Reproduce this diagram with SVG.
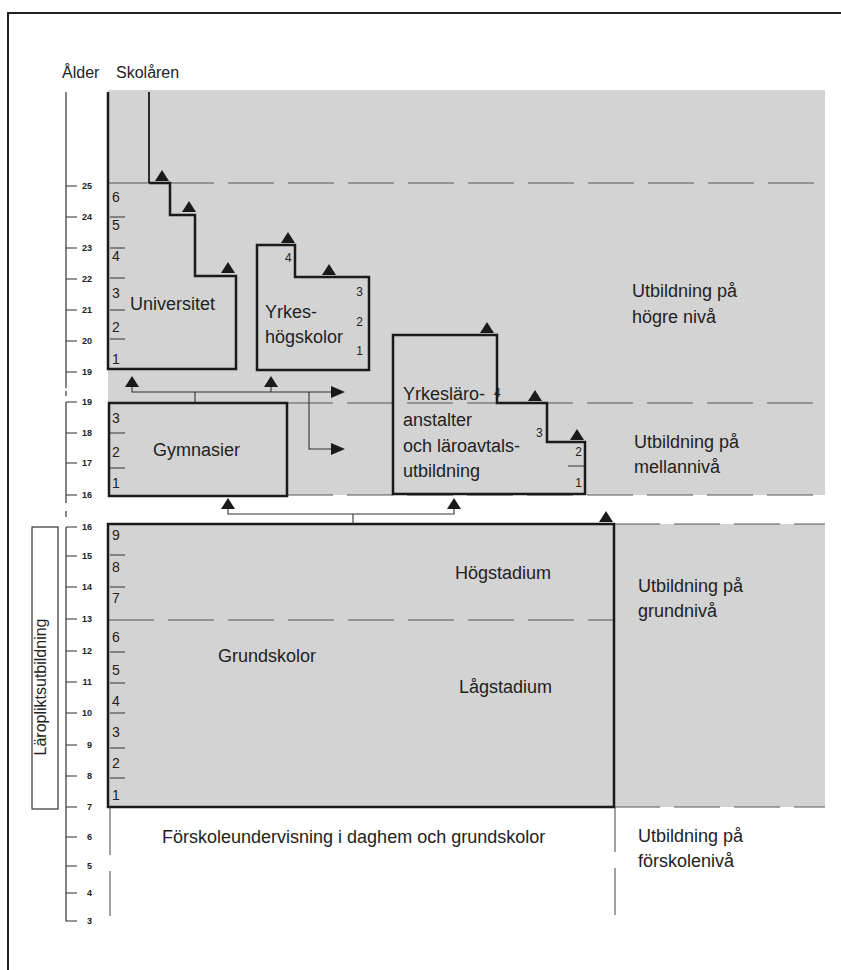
<svg xmlns="http://www.w3.org/2000/svg" width="841" height="970" viewBox="0 0 841 970">
<defs>
<path id="tri" d="M-7,0 L7,0 L0,-11 Z" fill="#1a1a1a"/>
<path id="trir" d="M0,-6 L0,6 L14,0 Z" fill="#1a1a1a"/>
</defs>
<style>
.box{fill:none;stroke:#1a1a1a;stroke-width:2.5;stroke-linejoin:miter}
.thin{fill:none;stroke:#333;stroke-width:1.1}
.dash{fill:none;stroke:#555;stroke-width:1.2;stroke-dasharray:46 14}
.sep{stroke:#333;stroke-width:1}
.lbl{font-family:"Liberation Sans",Arial,sans-serif;font-size:18px;fill:#222}
.hdr{font-family:"Liberation Sans",Arial,sans-serif;font-size:16px;fill:#222}
.num{font-family:"Liberation Sans",Arial,sans-serif;font-size:14px;fill:#222}
.sm{font-family:"Liberation Sans",Arial,sans-serif;font-size:12px;fill:#222}
.age{font-family:"Liberation Sans",Arial,sans-serif;font-size:9px;font-weight:bold;fill:#222;text-anchor:end}
</style>

<g id="frame">
<path d="M8,970 V13 H841" fill="none" stroke="#222" stroke-width="2"/>
</g>

<g id="background">
<rect x="108" y="90" width="717" height="405" fill="#d3d3d3"/>
<rect x="108" y="524" width="717" height="283" fill="#d3d3d3"/>
<line class="dash" x1="108" y1="183" x2="825" y2="183"/>
<line class="dash" x1="287" y1="403" x2="825" y2="403"/>
<line class="dash" x1="287" y1="495" x2="825" y2="495"/>
<line class="dash" x1="614" y1="524" x2="825" y2="524"/>
<line class="dash" x1="614" y1="807" x2="825" y2="807"/>
<line class="dash" x1="108" y1="620" x2="614" y2="620"/>
</g>

<g id="header">
<text class="hdr" x="62" y="78">Ålder</text>
<text class="hdr" x="116" y="78">Skolåren</text>
</g>

<g id="age-axis" stroke="#333" stroke-width="1.2" fill="none">
<line x1="66" y1="92" x2="66" y2="388"/>
<line x1="66" y1="391" x2="66" y2="396"/>
<line x1="66" y1="402" x2="66" y2="503"/>
<line x1="66" y1="511" x2="66" y2="517"/>
<path d="M66,527 V921 H77"/>
<path d="M66,186 H77 M66,217 H77 M66,248 H77 M66,279 H77 M66,310 H77 M66,341 H77 M66,372 H77 M66,402 H77 M66,433 H77 M66,463 H77 M66,495 H77 M66,527 H77 M66,556 H77 M66,587 H77 M66,619 H77 M66,651 H77 M66,682 H77 M66,713 H77 M66,745 H77 M66,776 H77 M66,807 H77 M66,837 H77 M66,866 H77 M66,893 H77"/>
</g>
<g id="age-labels">
<text class="age" x="92" y="189">25</text>
<text class="age" x="92" y="220">24</text>
<text class="age" x="92" y="251">23</text>
<text class="age" x="92" y="282">22</text>
<text class="age" x="92" y="313">21</text>
<text class="age" x="92" y="344">20</text>
<text class="age" x="92" y="375">19</text>
<text class="age" x="92" y="405">19</text>
<text class="age" x="92" y="436">18</text>
<text class="age" x="92" y="466">17</text>
<text class="age" x="92" y="498">16</text>
<text class="age" x="92" y="530">16</text>
<text class="age" x="92" y="559">15</text>
<text class="age" x="92" y="590">14</text>
<text class="age" x="92" y="622">13</text>
<text class="age" x="92" y="654">12</text>
<text class="age" x="92" y="685">11</text>
<text class="age" x="92" y="716">10</text>
<text class="age" x="92" y="748">9</text>
<text class="age" x="92" y="779">8</text>
<text class="age" x="92" y="810">7</text>
<text class="age" x="92" y="840">6</text>
<text class="age" x="92" y="869">5</text>
<text class="age" x="92" y="896">4</text>
<text class="age" x="92" y="924">3</text>
</g>

<g id="laroplikt">
<rect x="32" y="527" width="26" height="282" fill="#fff" stroke="#333" stroke-width="1.2"/>
<text class="hdr" transform="translate(46,687) rotate(-90)" text-anchor="middle">Läropliktsutbildning</text>
</g>

<g id="universitet">
<path class="box" d="M108,92 V369 H236 V276 H195 V215 H170 V183 H149"/>
<line x1="149" y1="92" x2="149" y2="183" stroke="#1a1a1a" stroke-width="1.8"/>
<path class="sep" d="M110,217 H125 M110,248 H125 M110,278 H125 M110,310 H125 M110,339 H125"/>
<text class="num" x="112" y="202">6</text>
<text class="num" x="112" y="230">5</text>
<text class="num" x="112" y="261">4</text>
<text class="num" x="112" y="298">3</text>
<text class="num" x="112" y="332">2</text>
<text class="num" x="112" y="364">1</text>
<text class="lbl" x="130" y="310">Universitet</text>
<use href="#tri" x="162" y="181"/>
<use href="#tri" x="189" y="212"/>
<use href="#tri" x="228" y="273"/>
</g>

<g id="yrkeshogskolor">
<path class="box" d="M257,370 V245 H295 V277 H369 V370 Z"/>
<text class="sm" x="285" y="262">4</text>
<text class="sm" x="363" y="296" text-anchor="end">3</text>
<text class="sm" x="363" y="326" text-anchor="end">2</text>
<text class="sm" x="363" y="355" text-anchor="end">1</text>
<text class="lbl" x="265" y="318">Yrkes-</text>
<text class="lbl" x="265" y="343">högskolor</text>
<use href="#tri" x="288" y="243"/>
<use href="#tri" x="329" y="275"/>
</g>

<g id="yrkeslaroanstalter">
<path class="box" d="M393,494 V335 H497 V403 H547 V442 H585 V494 Z"/>
<text class="lbl" x="403" y="400">Yrkesläro-</text>
<text class="lbl" x="403" y="426">anstalter</text>
<text class="lbl" x="403" y="452">och läroavtals-</text>
<text class="lbl" x="403" y="477">utbildning</text>
<text class="sm" x="494" y="397">4</text>
<text class="sm" x="536" y="437">3</text>
<text class="sm" x="582" y="456" text-anchor="end">2</text>
<line class="sep" x1="568" y1="466" x2="584" y2="466"/>
<text class="sm" x="582" y="487" text-anchor="end">1</text>
<use href="#tri" x="487" y="333"/>
<use href="#tri" x="535" y="401"/>
<use href="#tri" x="577" y="440"/>
</g>

<g id="gymnasier">
<rect class="box" x="109" y="403" width="178" height="93"/>
<path class="sep" d="M110,433 H125 M110,468 H125"/>
<text class="num" x="112" y="423">3</text>
<text class="num" x="112" y="457">2</text>
<text class="num" x="112" y="488">1</text>
<text class="lbl" x="153" y="456">Gymnasier</text>
</g>

<g id="grundskolor">
<rect class="box" x="108" y="524" width="506" height="283"/>
<path class="sep" d="M110,555 H125 M110,587 H125 M110,652 H125 M110,683 H125 M110,713 H125 M110,748 H125 M110,778 H125"/>
<text class="num" x="112" y="540">9</text>
<text class="num" x="112" y="572">8</text>
<text class="num" x="112" y="603">7</text>
<text class="num" x="112" y="642">6</text>
<text class="num" x="112" y="675">5</text>
<text class="num" x="112" y="706">4</text>
<text class="num" x="112" y="737">3</text>
<text class="num" x="112" y="768">2</text>
<text class="num" x="112" y="800">1</text>
<text class="lbl" x="218" y="662">Grundskolor</text>
<text class="lbl" x="455" y="579">Högstadium</text>
<text class="lbl" x="459" y="693">Lågstadium</text>
<use href="#tri" x="606" y="522"/>
</g>

<g id="forskola">
<line x1="110" y1="807" x2="110" y2="855" stroke="#444" stroke-width="1"/>
<line x1="110" y1="871" x2="110" y2="916" stroke="#444" stroke-width="1"/>
<line x1="615" y1="807" x2="615" y2="852" stroke="#444" stroke-width="1"/>
<line x1="615" y1="868" x2="615" y2="915" stroke="#444" stroke-width="1"/>
<text class="lbl" x="162" y="843">Förskoleundervisning i daghem och grundskolor</text>
</g>

<g id="level-labels">
<text class="lbl" x="632" y="297">Utbildning på</text>
<text class="lbl" x="632" y="323">högre nivå</text>
<text class="lbl" x="634" y="448">Utbildning på</text>
<text class="lbl" x="634" y="473">mellannivå</text>
<text class="lbl" x="638" y="592">Utbildning på</text>
<text class="lbl" x="638" y="617">grundnivå</text>
<text class="lbl" x="638" y="842">Utbildning på</text>
<text class="lbl" x="638" y="867">förskolenivå</text>
</g>

<g id="connectors">
<path class="thin" d="M132,386 V392 H332"/>
<path class="thin" d="M195,403 V392"/>
<path class="thin" d="M271,392 V386"/>
<path class="thin" d="M309,392 V449 H332"/>
<use href="#tri" x="132" y="387"/>
<use href="#tri" x="271" y="387"/>
<use href="#trir" x="331" y="392"/>
<use href="#trir" x="331" y="449"/>
<path class="thin" d="M228,508 V514 H454 V508"/>
<path class="thin" d="M353,514 V524"/>
<use href="#tri" x="228" y="509"/>
<use href="#tri" x="454" y="509"/>
</g>
</svg>
